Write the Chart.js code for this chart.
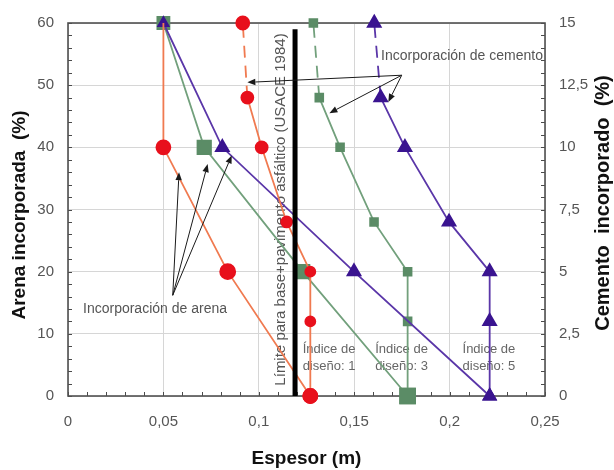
<!DOCTYPE html>
<html><head><meta charset="utf-8">
<script src="https://cdn.jsdelivr.net/npm/chart.js@4.4.0/dist/chart.umd.min.js"></script>
<style>html,body{margin:0;padding:0;background:#fff;} #wrap{width:614px;height:470px;position:relative;}</style>
</head><body><div id="wrap"><canvas id="c" width="614" height="470"></canvas></div>
<script>
// ---- data ----
const xTicks = [0, 0.05, 0.1, 0.15, 0.2, 0.25];
const xTickLabels = ['0', '0,05', '0,1', '0,15', '0,2', '0,25'];
const yTicks = [0, 10, 20, 30, 40, 50, 60];
const yTickLabels = ['0', '10', '20', '30', '40', '50', '60'];
const y2Ticks = [0, 2.5, 5, 7.5, 10, 12.5, 15];
const y2TickLabels = ['0', '2,5', '5', '7,5', '10', '12,5', '15'];

// Sand incorporation (left axis, %)
const sandPct = [60, 40, 20, 0];
const sandThickIdx1 = [0.05, 0.05, 0.0837, 0.127];
const sandThickIdx3 = [0.05, 0.0714, 0.123, 0.178];
const sandThickIdx5 = [0.05, 0.0809, 0.1499, 0.221];

// Cement incorporation (right axis, %)
const cementPct = [0, 3, 5, 7, 10, 12, 15];
const cementThickIdx1 = [0.127, 0.127, 0.127, 0.1146, 0.1015, 0.094, 0.0916];
const cementThickIdx3 = [0.178, 0.178, 0.178, 0.1604, 0.1426, 0.1317, 0.1286];
const cementThickIdx5 = [0.221, 0.221, 0.221, 0.1997, 0.1766, 0.1639, 0.1605];

// Limit line (USACE 1984)
const limitThick = [0.119, 0.119];
const limitPct = [0, 59];

const xy = (xs, ys) => xs.map((x, i) => ({x: x, y: ys[i]}));

Chart.defaults.font.family = "'Liberation Sans', Arial, Helvetica, sans-serif";

const redLine = '#f07a50', redMark = '#e8101c';
const greenLine = '#72a07c', greenMark = '#5b8c66';
const purpleLine = '#5a36a8', purpleMark = '#3a1490';
const lastDash = ctx => ctx.p1DataIndex === cementPct.length - 1 ? [12, 8] : undefined;

const base = {showLine: true, clip: false, borderWidth: 1.8, fill: false, tension: 0};

const datasets = [
  Object.assign({}, base, {label: 'Límite', data: xy(limitThick, limitPct), yAxisID: 'y',
    borderColor: '#000', borderWidth: 5, pointRadius: 0, order: 0, borderCapStyle: 'butt'}),
  Object.assign({}, base, {label: 'Cemento 1', data: xy(cementThickIdx1, cementPct), yAxisID: 'y2',
    borderColor: redLine, pointBackgroundColor: redMark, pointBorderColor: redMark,
    pointStyle: 'circle', pointRadius: [7, 5, 5, 5.5, 6, 6, 6.5], segment: {borderDash: lastDash}, order: 1}),
  Object.assign({}, base, {label: 'Arena 1', data: xy(sandThickIdx1, sandPct), yAxisID: 'y',
    borderColor: redLine, pointBackgroundColor: redMark, pointBorderColor: redMark,
    pointStyle: 'circle', pointRadius: [0, 7, 7.5, 7], order: 2}),
  Object.assign({}, base, {label: 'Arena 5', data: xy(sandThickIdx5, sandPct), yAxisID: 'y',
    borderColor: purpleLine, pointBackgroundColor: purpleMark, pointBorderColor: purpleMark,
    pointStyle: 'triangle', pointRadius: [6, 7.5, 7.5, 7], order: 3}),
  Object.assign({}, base, {label: 'Cemento 3', data: xy(cementThickIdx3, cementPct), yAxisID: 'y2',
    borderColor: greenLine, pointBackgroundColor: greenMark, pointBorderColor: greenMark,
    pointStyle: 'rect', pointRadius: [10.5, 5.5, 5.5, 5.5, 5.5, 5.5, 5.5], segment: {borderDash: lastDash}, order: 4}),
  Object.assign({}, base, {label: 'Arena 3', data: xy(sandThickIdx3, sandPct), yAxisID: 'y',
    borderColor: greenLine, pointBackgroundColor: greenMark, pointBorderColor: greenMark,
    pointStyle: 'rect', pointRadius: [8.5, 9.5, 9.5, 10.5], order: 5}),
  Object.assign({}, base, {label: 'Cemento 5', data: xy(cementThickIdx5, cementPct), yAxisID: 'y2',
    borderColor: purpleLine, pointBackgroundColor: purpleMark, pointBorderColor: purpleMark,
    pointStyle: 'triangle', pointRadius: [7, 7.5, 7.5, 7.5, 7.5, 7.5, 7.5], segment: {borderDash: lastDash}, order: 6})
];

// annotations (data units)
const notes = {
  limitText: {x: 0.1115, y: 30, text: 'Límite para base+pavimento asfáltico (USACE 1984)'},
  design: [
    {x: 0.1368, y: 6.1, lines: ['Índice de', 'diseño: 1']},
    {x: 0.1748, y: 6.1, lines: ['Índice de', 'diseño: 3']},
    {x: 0.2206, y: 6.1, lines: ['Índice de', 'diseño: 5']}
  ],
  sand: {text: 'Incorporación de arena', tx: 0.0456, ty: 14.0, from: [0.0549, 16.2],
    to: [[0.0582, 36.0], [0.0732, 37.3], [0.0858, 38.7]]},
  cement: {text: 'Incorporación de cemento', tx: 0.2065, ty: 54.6, from: [0.1749, 51.6],
    to: [[0.094, 50.45], [0.137, 45.5], [0.1679, 47.3]]}
};

const tickColor = '#555';
const decor = {
  id: 'decor',
  beforeDatasetsDraw(chart) {
    const ctx = chart.ctx, a = chart.chartArea;
    const xs = chart.scales.x, ys = chart.scales.y, y2 = chart.scales.y2;
    ctx.save();
    // inward minor ticks
    ctx.strokeStyle = '#4a4a4a'; ctx.lineWidth = 1;
    ctx.beginPath();
    for (let i = 0; i <= 25; i++) { const px = Math.round(xs.getPixelForValue(i / 100)) + 0.5; ctx.moveTo(px, a.bottom); ctx.lineTo(px, a.bottom - 4); }
    for (let i = 0; i <= 30; i++) { const py = Math.round(ys.getPixelForValue(i * 2)) + 0.5; ctx.moveTo(a.left, py); ctx.lineTo(a.left + 4, py); }
    for (let i = 0; i <= 30; i++) { const py = Math.round(y2.getPixelForValue(i * 0.5)) + 0.5; ctx.moveTo(a.right, py); ctx.lineTo(a.right - 4, py); }
    ctx.stroke();
    // frame
    ctx.strokeStyle = '#505050'; ctx.lineWidth = 1.6;
    ctx.strokeRect(a.left, a.top, a.right - a.left, a.bottom - a.top);
    // limit text
    ctx.fillStyle = '#555';
    ctx.font = "15px 'Liberation Sans', Arial, sans-serif";
    ctx.translate(xs.getPixelForValue(notes.limitText.x), ys.getPixelForValue(notes.limitText.y));
    ctx.rotate(-Math.PI / 2);
    ctx.textAlign = 'center'; ctx.textBaseline = 'middle';
    ctx.fillText(notes.limitText.text, 0, 0);
    ctx.restore();
    // design index labels
    ctx.save();
    ctx.fillStyle = '#666';
    ctx.font = "13px 'Liberation Sans', Arial, sans-serif";
    ctx.textAlign = 'center'; ctx.textBaseline = 'middle';
    notes.design.forEach(d => {
      const px = xs.getPixelForValue(d.x), py = ys.getPixelForValue(d.y);
      ctx.fillText(d.lines[0], px, py - 8.5);
      ctx.fillText(d.lines[1], px, py + 8.5);
    });
    ctx.restore();
  },
  afterDatasetsDraw(chart) {
    const ctx = chart.ctx;
    const xs = chart.scales.x, ys = chart.scales.y;
    const P = p => [xs.getPixelForValue(p[0]), ys.getPixelForValue(p[1])];
    ctx.save();
    ctx.strokeStyle = '#1a1a1a'; ctx.fillStyle = '#1a1a1a'; ctx.lineWidth = 1;
    const arrow = (f, t) => {
      const [x1, y1] = P(f), [x2, y2] = P(t);
      const ang = Math.atan2(y2 - y1, x2 - x1), L = 8, W = 3.2;
      const bx = x2 - L * Math.cos(ang), by = y2 - L * Math.sin(ang);
      ctx.beginPath(); ctx.moveTo(x1, y1); ctx.lineTo(bx, by); ctx.stroke();
      ctx.beginPath(); ctx.moveTo(x2, y2);
      ctx.lineTo(bx + W * Math.sin(ang), by - W * Math.cos(ang));
      ctx.lineTo(bx - W * Math.sin(ang), by + W * Math.cos(ang));
      ctx.closePath(); ctx.fill();
    };
    [notes.sand, notes.cement].forEach(n => n.to.forEach(t => arrow(n.from, t)));
    ctx.fillStyle = '#555';
    ctx.font = "14px 'Liberation Sans', Arial, sans-serif";
    ctx.textAlign = 'center'; ctx.textBaseline = 'middle';
    [notes.sand, notes.cement].forEach(n => {
      const [px, py] = P([n.tx, n.ty]);
      ctx.fillText(n.text, px, py);
    });
    ctx.restore();
    // axis titles (left and right, read bottom-to-top)
    ctx.save();
    ctx.fillStyle = '#111';
    ctx.textAlign = 'center'; ctx.textBaseline = 'middle';
    ctx.font = "bold 19px 'Liberation Sans', Arial, sans-serif";
    ctx.translate(20, 215); ctx.rotate(-Math.PI / 2);
    ctx.fillText('Arena incorporada  (%)', 0, 0);
    ctx.restore();
    ctx.save();
    ctx.fillStyle = '#111';
    ctx.textAlign = 'center'; ctx.textBaseline = 'middle';
    ctx.font = "bold 20px 'Liberation Sans', Arial, sans-serif";
    ctx.translate(603, 203); ctx.rotate(-Math.PI / 2);
    ctx.fillText('Cemento  incorporado  (%)', 0, 0);
    ctx.restore();
  }
};

const setTicks = list => s => { s.ticks = list.map(v => ({value: v})); };
const labelOf = (list, labels) => v => { const i = list.findIndex(t => Math.abs(t - v) < 1e-9); return i < 0 ? '' : labels[i]; };
const gridOpts = {color: '#d6d6d6', lineWidth: 1, drawTicks: false};
const tickFont = {size: 15};

new Chart(document.getElementById('c'), {
  type: 'scatter',
  data: {datasets: datasets},
  options: {
    responsive: false,
    animation: false,
    layout: {padding: {top: 19, left: 0, right: 0, bottom: 0}, autoPadding: false},
    plugins: {legend: {display: false}, tooltip: {enabled: false}},
    scales: {
      x: {
        type: 'linear', position: 'bottom', min: 0, max: 0.25,
        afterBuildTicks: setTicks(xTicks),
        afterFit: s => { s.height = 74; },
        ticks: {callback: labelOf(xTicks, xTickLabels), font: tickFont, color: tickColor, padding: 17, maxRotation: 0, autoSkip: false},
        grid: gridOpts, border: {display: false},
        title: {display: true, text: 'Espesor (m)', color: '#111', font: {size: 19, weight: 'bold'}, padding: {top: 3, bottom: 0}}
      },
      y: {
        type: 'linear', position: 'left', min: 0, max: 60,
        afterBuildTicks: setTicks(yTicks),
        afterFit: s => { s.width = 68; },
        ticks: {callback: labelOf(yTicks, yTickLabels), font: tickFont, color: tickColor, padding: 14, autoSkip: false},
        grid: gridOpts, border: {display: false}
      },
      y2: {
        type: 'linear', position: 'right', min: 0, max: 15,
        afterBuildTicks: setTicks(y2Ticks),
        afterFit: s => { s.width = 69; },
        ticks: {callback: labelOf(y2Ticks, y2TickLabels), font: tickFont, color: tickColor, padding: 14, autoSkip: false},
        grid: {drawOnChartArea: false, drawTicks: false}, border: {display: false}
      }
    }
  },
  plugins: [decor]
});
</script>
</body></html>
